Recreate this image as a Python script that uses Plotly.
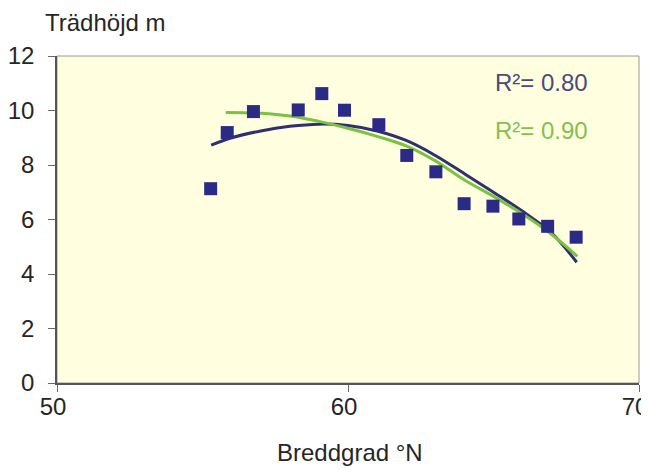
import plotly.graph_objects as go

# Observations
lat = [55.28, 55.85, 56.75, 58.29, 59.10, 59.88, 61.06, 62.02, 63.02, 63.99, 64.98, 65.87, 66.86, 67.84]
height = [7.13, 9.19, 9.96, 10.02, 10.62, 10.01, 9.48, 8.35, 7.75, 6.58, 6.49, 6.02, 5.75, 5.35]

# Trend line (R2 = 0.80)
blue_x = [55.3, 56, 57, 58, 59, 60, 61, 62, 63, 64, 65, 66, 67, 67.86]
blue_y = [8.73, 9.0, 9.25, 9.42, 9.5, 9.45, 9.25, 8.9, 8.35, 7.68, 7.0, 6.3, 5.5, 4.43]

# Trend line (R2 = 0.90)
green_x = [55.8, 57, 58, 59, 60, 61, 62, 63, 64, 65, 66, 67, 67.88]
green_y = [9.93, 9.9, 9.8, 9.6, 9.35, 9.05, 8.7, 8.15, 7.45, 6.85, 6.2, 5.45, 4.65]

x_ticks = [50, 60, 70]
y_ticks = [0, 2, 4, 6, 8, 10, 12]

NAVY = "#2b2a86"
GREEN = "#7cc242"
FONT = "Liberation Sans, Arial, sans-serif"
TXT = "#262626"

fig = go.Figure()
fig.add_trace(go.Scatter(x=blue_x, y=blue_y, mode="lines", line=dict(color="#2f2f72", width=3, shape="spline"), showlegend=False))
fig.add_trace(go.Scatter(x=green_x, y=green_y, mode="lines", line=dict(color=GREEN, width=3, shape="spline"), showlegend=False))
fig.add_trace(go.Scatter(x=lat, y=height, mode="markers",
                         marker=dict(symbol="square", size=13, color=NAVY), showlegend=False))

# page body has an 8px default margin, so the figure is sized/offset to compensate
fig.update_layout(
    width=641, height=462,
    margin=dict(l=49, r=10, t=48, b=87, autoexpand=False),
    paper_bgcolor="white",
    plot_bgcolor="#ffffe0",
    font=dict(family=FONT, size=24, color=TXT),
    xaxis=dict(range=[50, 70], tickvals=x_ticks, showgrid=False, zeroline=False,
               showline=True, linecolor="#555555", linewidth=1.5, mirror=False,
               ticks="outside", ticklen=7, tickcolor="#666666", ticklabelstandoff=-6,
               ticklabelshift=-4, ticklabeloverflow="allow", automargin=False),
    yaxis=dict(range=[0, 12], tickvals=y_ticks, showgrid=False, zeroline=False,
               showline=True, linecolor="#555555", linewidth=1.5, mirror=False,
               ticks="outside", ticklen=7, tickcolor="#666666", ticklabelstandoff=9,
               automargin=False),
    shapes=[dict(type="rect", xref="paper", yref="paper", x0=0, y0=0, x1=1, y1=1,
                 line=dict(color="#999999", width=1), layer="below")],
    annotations=[
        dict(text="Trädhöjd m", xref="paper", yref="paper", x=-0.024, y=1.101,
             xanchor="left", yanchor="middle", showarrow=False, font=dict(size=24, color=TXT)),
        dict(text="Breddgrad °N", xref="paper", yref="paper", x=0.503, y=-0.214,
             xanchor="center", yanchor="middle", showarrow=False, font=dict(size=24, color=TXT)),
        dict(text="R²= 0.80", xref="paper", yref="paper", x=0.916, y=0.918,
             xanchor="right", yanchor="middle", showarrow=False, font=dict(size=24, color="#4a4a80")),
        dict(text="R²= 0.90", xref="paper", yref="paper", x=0.916, y=0.772,
             xanchor="right", yanchor="middle", showarrow=False, font=dict(size=24, color="#84bf50")),
    ],
)

fig.write_html("out.html")
